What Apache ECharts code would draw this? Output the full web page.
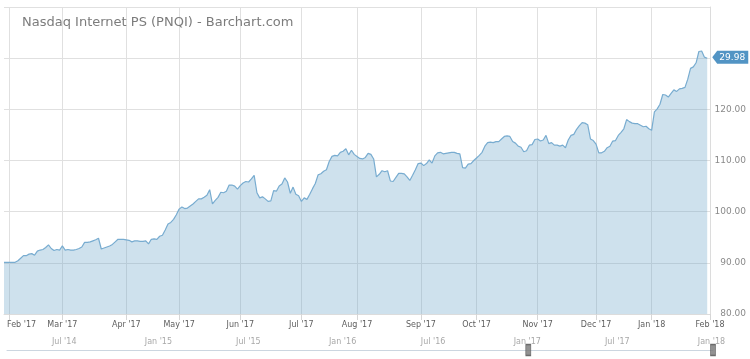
<!DOCTYPE html>
<html>
<head>
<meta charset="utf-8">
<script src="https://cdn.jsdelivr.net/npm/echarts@6/dist/echarts.min.js"></script>
<style>
html,body{margin:0;padding:0;background:#fff;}
#chart{width:750px;height:359px;}
</style>
</head>
<body>
<div id="chart"></div>
<script>
// ---- data ----
const TITLE = "Nasdaq Internet PS (PNQI) - Barchart.com";
const START_DATE = "2017-01-30";
const END_DATE = "2018-02-01";
const HOLIDAYS = ["2017-02-20","2017-04-14","2017-05-29","2017-07-04","2017-09-04","2017-11-23","2017-12-25","2018-01-01","2018-01-15"];
const MONTHS = ["Jan","Feb","Mar","Apr","May","Jun","Jul","Aug","Sep","Oct","Nov","Dec"];
const PRICE_TAG = "29.98";
const LAST_PRICE = 129.98;

// daily closes, one per trading day from 2017-01-30 to 2018-01-31
const closes = [
 90.1, 90.1, 90.1, 90.1, 90.1, 90.4, 90.9, 91.4, 91.4, 91.7,
 91.8, 91.5, 92.3, 92.5, 92.6, 93.0, 93.5, 92.8, 92.4, 92.6,
 92.5, 93.3, 92.5, 92.6, 92.5, 92.5, 92.6, 92.8, 93.1, 94.0,
 94.0, 94.1, 94.3, 94.5, 94.8, 92.7, 92.9, 93.1, 93.3, 93.6,
 94.1, 94.6, 94.6, 94.6, 94.5, 94.4, 94.1, 94.3, 94.3, 94.2,
 94.2, 94.3, 93.7, 94.6, 94.7, 94.6, 95.2, 95.4, 96.4, 97.6,
 97.9, 98.5, 99.4, 100.5, 100.9, 100.6, 100.7, 101.1, 101.5, 102.0,
 102.5, 102.5, 102.8, 103.2, 104.3, 101.5, 102.2, 102.8, 103.8, 103.7,
 104.0, 105.2, 105.2, 105.0, 104.4, 105.1, 105.6, 105.9, 105.8, 106.4,
 107.1, 103.7, 102.7, 102.9, 102.5, 102.0, 102.1, 104.1, 104.0, 105.0,
 105.4, 106.6, 105.8, 103.6, 104.8, 103.4, 103.1, 102.0, 102.7, 102.4,
 103.4, 104.5, 105.5, 107.2, 107.4, 107.9, 108.2, 109.8, 110.8, 111.0,
 110.9, 111.6, 111.8, 112.3, 111.1, 112.0, 111.2, 110.8, 110.4, 110.3,
 110.6, 111.4, 111.2, 110.3, 106.8, 107.3, 108.0, 107.8, 108.0, 106.0,
 105.9, 106.7, 107.5, 107.5, 107.4, 106.8, 106.1, 107.1, 108.2, 109.4,
 109.5, 109.0, 109.4, 110.1, 109.5, 110.9, 111.5, 111.6, 111.3, 111.4,
 111.5, 111.6, 111.6, 111.4, 111.3, 108.6, 108.5, 109.3, 109.4, 110.0,
 110.5, 111.0, 111.6, 112.8, 113.5, 113.6, 113.5, 113.7, 113.7, 114.2,
 114.7, 114.8, 114.7, 113.7, 113.4, 112.8, 112.6, 111.7, 111.9, 113.0,
 113.1, 114.1, 114.2, 113.8, 114.0, 114.9, 113.3, 113.5, 113.0, 113.0,
 112.8, 113.0, 112.5, 114.0, 114.9, 115.1, 116.1, 116.8, 117.4, 117.3,
 117.0, 114.2, 113.9, 113.2, 111.5, 111.5, 111.8, 112.5, 112.8, 113.8,
 113.9, 114.9, 115.5, 116.2, 118.0, 117.6, 117.3, 117.2, 117.2, 116.9,
 116.6, 116.7, 116.2, 115.9, 119.5, 120.1, 121.0, 122.9, 122.8, 122.4,
 123.1, 123.8, 123.5, 124.0, 124.1, 124.3, 125.9, 128.0, 128.3, 129.1,
 131.3, 131.4, 130.2, 129.98
];

// navigator (overview) range and selection handles
const NAV_MIN = "2014-04-03";
const NAV_MAX = "2018-01-31";
const NAV_HANDLES = ["2017-01-30", "2018-01-31"];

// ---- build categories (trading days) ----
function tradingDays(start, end, holidays) {
  const out = [];
  const d = new Date(start + "T00:00:00Z");
  const e = new Date(end + "T00:00:00Z");
  while (d <= e) {
    const wd = d.getUTCDay();
    const s = d.toISOString().slice(0, 10);
    if (wd !== 0 && wd !== 6 && holidays.indexOf(s) < 0) out.push(s);
    d.setUTCDate(d.getUTCDate() + 1);
  }
  return out;
}
const dates = tradingDays(START_DATE, END_DATE, HOLIDAYS);
const seriesData = dates.map((d, i) => (i < closes.length ? closes[i] : null));

function monthStart(index) {
  return index > 0 && dates[index].slice(0, 7) !== dates[index - 1].slice(0, 7);
}
let firstLabelIndex = -1;
for (let i = 0; i < dates.length; i++) { if (monthStart(i)) { firstLabelIndex = i; break; } }
function fmtMonth(s, index) {
  const m = parseInt(s.slice(5, 7), 10) - 1;
  const t = MONTHS[m] + " '" + s.slice(2, 4);
  return index === firstLabelIndex ? "{first|" + t + "}" : t;
}

const FONT = "DejaVu Sans";
const chart = echarts.init(document.getElementById("chart"), null, { renderer: "canvas" });

chart.setOption({
  animation: false,
  backgroundColor: "#ffffff",
  title: {
    text: TITLE,
    left: 17,
    top: 11,
    textStyle: { fontFamily: FONT, fontSize: 13, fontWeight: "normal", color: "#7c7c7c" }
  },
  grid: [
    { left: 4, right: 40, top: 7, bottom: 45, containLabel: false, outerBoundsMode: "none" },
    { left: 7, right: 37, top: 349, height: 1, containLabel: false, outerBoundsMode: "none" }
  ],
  xAxis: [
    {
      type: "category",
      gridIndex: 0,
      data: dates,
      boundaryGap: false,
      axisLine: { show: true, lineStyle: { color: "#dcdcdc" } },
      axisTick: { show: true, interval: monthStart, length: 6, lineStyle: { color: "#d6d6d6" } },
      splitLine: { show: true, interval: monthStart, lineStyle: { color: "#e0e0e0", width: 1 } },
      axisLabel: {
        interval: monthStart,
        formatter: fmtMonth,
        color: "#5e5e5e",
        fontFamily: FONT,
        fontSize: 8,
        margin: 7,
        rich: {
          first: { color: "#5e5e5e", fontFamily: FONT, fontSize: 8, padding: [0, 0, 0, 24] }
        }
      }
    },
    {
      type: "time",
      gridIndex: 1,
      position: "top",
      min: NAV_MIN,
      max: NAV_MAX,
      minInterval: 180 * 86400000,
      maxInterval: 185 * 86400000,
      axisLine: { show: true, lineStyle: { color: "#ccd6e0" } },
      axisTick: { show: false },
      splitLine: { show: false },
      axisLabel: {
        showMinLabel: false,
        showMaxLabel: false,
        align: "left",
        margin: 3,
        color: "#a8a8a8",
        fontFamily: FONT,
        fontSize: 8,
        formatter: function (v) {
          const d = new Date(v);
          return MONTHS[d.getMonth()] + " '" + String(d.getFullYear()).slice(2);
        }
      }
    }
  ],
  yAxis: [
    {
      type: "value",
      gridIndex: 0,
      position: "right",
      min: 80,
      max: 140,
      interval: 10,
      axisLine: { show: true, lineStyle: { color: "#dcdcdc" } },
      axisTick: { show: false },
      splitLine: { show: true, lineStyle: { color: "#e0e0e0", width: 1 } },
      axisLabel: {
        align: "right",
        margin: 36,
        color: "#8a8a8a",
        fontFamily: FONT,
        fontSize: 9,
        formatter: function (v) { return v >= 130 ? "" : v.toFixed(2); }
      }
    },
    { type: "value", gridIndex: 1, min: 0, max: 1, show: false }
  ],
  series: [
    {
      type: "line",
      xAxisIndex: 0,
      yAxisIndex: 0,
      data: seriesData,
      symbol: "none",
      connectNulls: false,
      lineStyle: { color: "#78acd0", width: 1.2 },
      areaStyle: { color: "rgba(108,164,200,0.48)", origin: "start" },
      markPoint: {
        symbol: "path://M0,6 L5,0 L36,0 L36,12 L5,12 Z",
        symbolSize: [36, 13],
        symbolOffset: [23, -1],
        itemStyle: { color: "#5294c4" },
        label: {
          show: true,
          position: "inside",
          offset: [2, 0],
          color: "#ffffff",
          fontFamily: FONT,
          fontSize: 9,
          formatter: PRICE_TAG
        },
        data: [{ coord: [dates[closes.length - 1], LAST_PRICE] }]
      }
    },
    {
      type: "scatter",
      xAxisIndex: 1,
      yAxisIndex: 1,
      symbol: "rect",
      symbolSize: [5, 11],
      itemStyle: { color: "#777777", borderColor: "#555555", borderWidth: 1 },
      data: NAV_HANDLES.map(d => [d, 0])
    }
  ]
});
</script>
</body>
</html>
